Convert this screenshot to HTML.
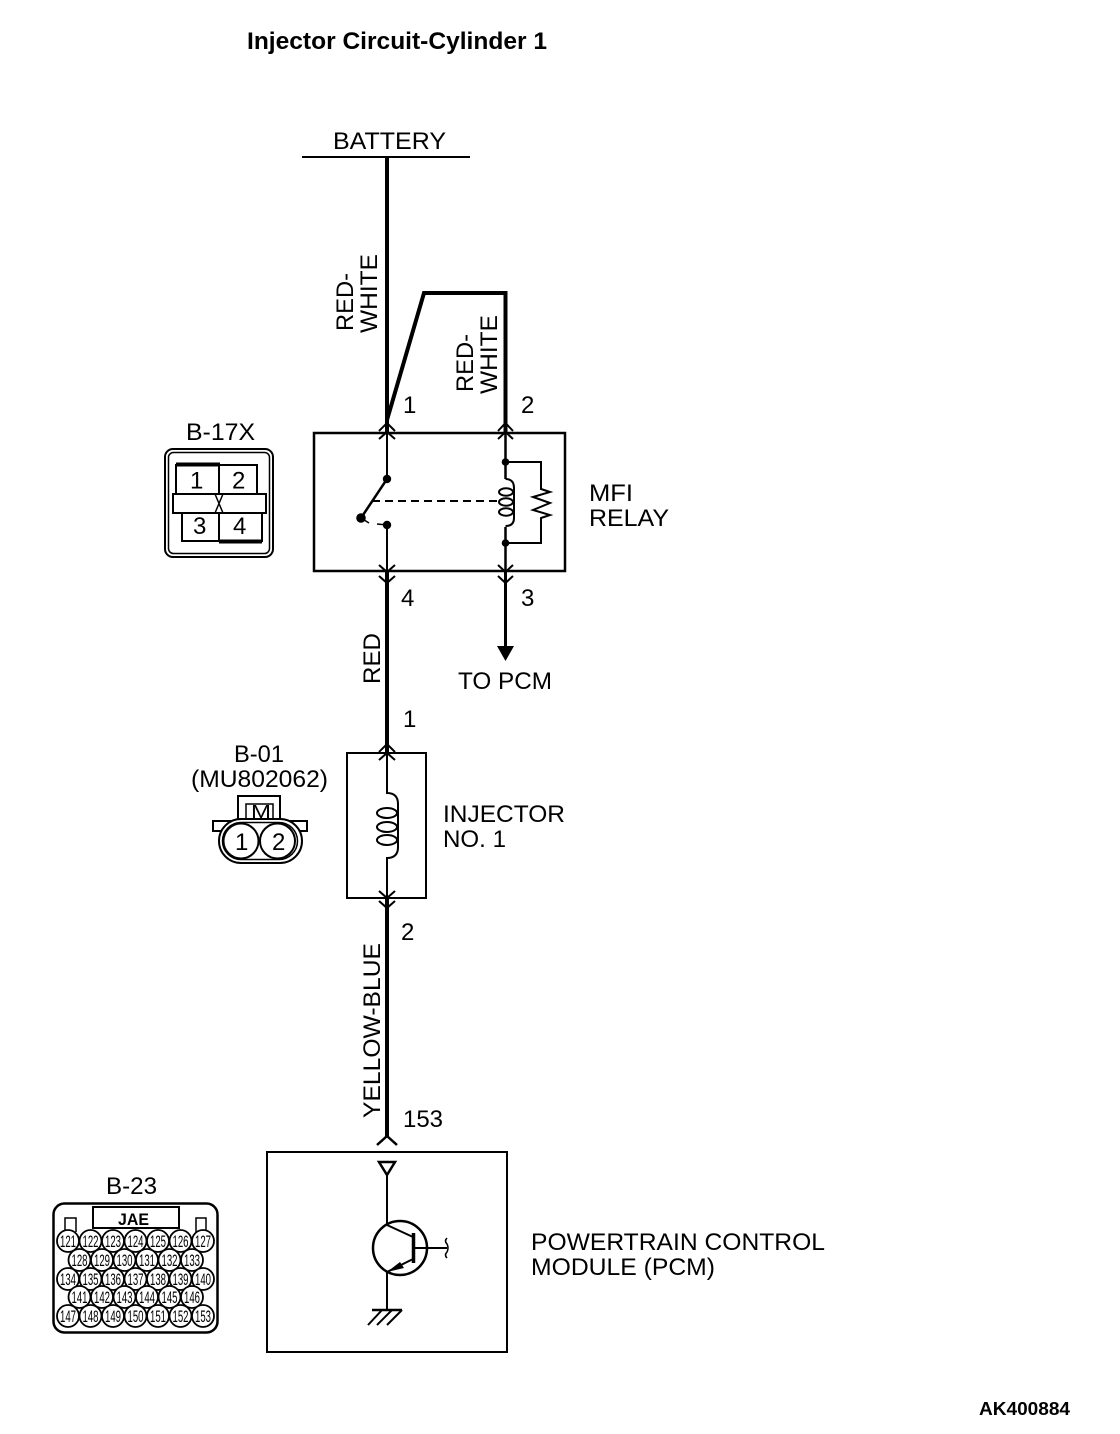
<!DOCTYPE html>
<html><head><meta charset="utf-8"><style>
html,body{margin:0;padding:0;background:#fff}
svg{display:block}
text{font-family:"Liberation Sans",sans-serif;font-size:24px;fill:#000}
.c{font-size:17px}
</style></head><body>
<svg xmlns="http://www.w3.org/2000/svg" width="1120" height="1434" viewBox="0 0 1120 1434">
<rect width="1120" height="1434" fill="#fff"/>
<text x="247" y="49" font-weight="bold" textLength="300" lengthAdjust="spacingAndGlyphs" style="font-weight:bold">Injector Circuit-Cylinder 1</text>
<text x="333" y="149" textLength="113" lengthAdjust="spacingAndGlyphs">BATTERY</text>
<text x="979" y="1415" textLength="91" lengthAdjust="spacingAndGlyphs" style="font-size:18px;font-weight:bold">AK400884</text>

<g fill="none" stroke="#000">
<path d="M302 157H470" stroke-width="2"/>
<path d="M387 157V432" stroke-width="4"/>
<path d="M387 420L424 293H505.5V432" stroke-width="4"/>
<rect x="314" y="433" width="251" height="138" stroke-width="2.5"/>
<!-- chevrons -->
<path d="M379 431L387 423L395 431M379 439L387 432L395 439M379 565L387 572L395 565M379 576L387 583L395 576" stroke-width="2"/>
<path d="M498 431L505.5 423L513 431M498 439L505.5 432L513 439M498 565L505.5 572L513 565M498 576L505.5 583L513 576" stroke-width="2"/>
<!-- relay contact -->
<path d="M387 432V479M387 525V572" stroke-width="2"/>
<path d="M361 518L387 479" stroke-width="2.5"/>
<path d="M361 518L369 523M377 524L387 525" stroke-width="1.5"/>
<path d="M372 501H498" stroke-width="2" stroke-dasharray="8 5"/>
<!-- relay coil -->
<path d="M505.5 432V479M505.5 527V572" stroke-width="2.5"/>
<path d="M505.5 462H541V489L550 492L533 497L550 503L533 510L550 515L541 518V543H505.5" stroke-width="2"/>
<path d="M505.5 479Q514 479 514 488V518Q514 526 505.5 526" stroke-width="2"/>
<ellipse cx="506" cy="492" rx="7" ry="3.7" stroke-width="2"/>
<ellipse cx="506" cy="502" rx="7" ry="3.7" stroke-width="2"/>
<ellipse cx="506" cy="512" rx="7" ry="3.7" stroke-width="2"/>
<!-- lower wires -->
<path d="M387 572V753" stroke-width="4"/>
<path d="M505.5 572V650" stroke-width="3"/>
<!-- injector -->
<rect x="347" y="753" width="79" height="145" stroke-width="2"/>
<path d="M379 752L387 744L395 752M379 760L387 753L395 760M379 891L387 898L395 891M379 901L387 908L395 901" stroke-width="2"/>
<path d="M387 753V793Q398 793 398 804V847Q398 858 387 858V898" stroke-width="2"/>
<ellipse cx="387" cy="813" rx="10" ry="5" stroke-width="2"/>
<ellipse cx="387" cy="827" rx="10" ry="5" stroke-width="2"/>
<ellipse cx="387" cy="840" rx="10" ry="5" stroke-width="2"/>
<path d="M387 898V1137" stroke-width="4"/>
<!-- PCM -->
<rect x="267" y="1152" width="240" height="200" stroke-width="2"/>
<path d="M377 1145L387 1136L397 1145" stroke-width="2.5"/>
<path d="M379 1162H395L387 1175Z" stroke-width="2.5"/>
<path d="M387 1175V1225M387 1272V1310" stroke-width="2"/>
<circle cx="400" cy="1248" r="27" stroke-width="2.5"/>
<path d="M413.500 1233V1263" stroke-width="3.5"/>
<path d="M387 1225L413 1237M413 1259L387 1272M414 1248H447" stroke-width="2"/>
<path d="M447 1238Q444 1241 447 1244Q449 1248 447 1252Q444 1255 447 1258" stroke-width="1.5"/>
<path d="M372 1310H402" stroke-width="2.5"/>
<path d="M382 1310L368 1325M392 1310L377 1325M402 1310L387 1325" stroke-width="2"/>
<!-- B-17X -->
<rect x="165" y="449" width="108" height="108" rx="8" stroke-width="2"/>
<rect x="168.500" y="452.500" width="101" height="101" rx="5" stroke-width="1.500"/>
<path d="M176 494V465H257V494M182 513V541H262V513M219 465V494M219 513V541" stroke-width="2"/>
<rect x="173" y="494" width="93" height="19" stroke-width="2"/>
<path d="M176 464.500H220M219 541.500H262" stroke-width="4"/>
<path d="M215 494L223 513M223 494L215 513" stroke-width="1.500"/>
<!-- B-01 -->
<rect x="238" y="796" width="42" height="26" stroke-width="2"/>
<path d="M246 822V804H273V822" stroke-width="1.500"/>
<path d="M213 821H307V831H213Z" stroke-width="2"/>
<rect x="219" y="819" width="83" height="44" rx="22" fill="#fff" stroke-width="2"/>
<rect x="222.500" y="822.500" width="75" height="37" rx="18.500" stroke-width="1.500"/>
<circle cx="241" cy="841" r="17.500" fill="#fff" stroke-width="2"/>
<circle cx="277.500" cy="841" r="17.500" fill="#fff" stroke-width="2"/>
<!-- B-23 -->
<rect x="53.500" y="1203.500" width="164" height="129" rx="11" stroke-width="2.500"/>
<rect x="93" y="1207" width="86" height="21" stroke-width="2"/>
<path d="M65 1232V1218H76V1232M196 1232V1218H206V1232" stroke-width="1.500"/>
</g>

<g fill="#000">
<circle cx="387" cy="479" r="4.200"/>
<circle cx="387" cy="525" r="4.200"/>
<circle cx="361" cy="518" r="4.800"/>
<circle cx="505.500" cy="462" r="3.800"/>
<circle cx="505.500" cy="543" r="3.800"/>
<path d="M497 646H514L505.500 661Z"/>
<path d="M387 1272L400 1262L404 1268Z"/>
</g>

<!-- B-23 pins -->
<g fill="#fff" stroke="#000" stroke-width="1.800">
<circle cx="68" cy="1241" r="11"/><circle cx="90.500" cy="1241" r="11"/><circle cx="113" cy="1241" r="11"/><circle cx="135.500" cy="1241" r="11"/><circle cx="158" cy="1241" r="11"/><circle cx="180.500" cy="1241" r="11"/><circle cx="203" cy="1241" r="11"/>
<circle cx="79.500" cy="1260" r="11"/><circle cx="102" cy="1260" r="11"/><circle cx="124.500" cy="1260" r="11"/><circle cx="147" cy="1260" r="11"/><circle cx="169.500" cy="1260" r="11"/><circle cx="192" cy="1260" r="11"/>
<circle cx="68" cy="1279" r="11"/><circle cx="90.500" cy="1279" r="11"/><circle cx="113" cy="1279" r="11"/><circle cx="135.500" cy="1279" r="11"/><circle cx="158" cy="1279" r="11"/><circle cx="180.500" cy="1279" r="11"/><circle cx="203" cy="1279" r="11"/>
<circle cx="79.500" cy="1297" r="11"/><circle cx="102" cy="1297" r="11"/><circle cx="124.500" cy="1297" r="11"/><circle cx="147" cy="1297" r="11"/><circle cx="169.500" cy="1297" r="11"/><circle cx="192" cy="1297" r="11"/>
<circle cx="68" cy="1316" r="11"/><circle cx="90.500" cy="1316" r="11"/><circle cx="113" cy="1316" r="11"/><circle cx="135.500" cy="1316" r="11"/><circle cx="158" cy="1316" r="11"/><circle cx="180.500" cy="1316" r="11"/><circle cx="203" cy="1316" r="11"/>
</g>
<g text-anchor="middle">
<g transform="translate(0,1247)"><text class="c" x="68" textLength="16" lengthAdjust="spacingAndGlyphs">121</text><text class="c" x="90.500" textLength="16" lengthAdjust="spacingAndGlyphs">122</text><text class="c" x="113" textLength="16" lengthAdjust="spacingAndGlyphs">123</text><text class="c" x="135.500" textLength="16" lengthAdjust="spacingAndGlyphs">124</text><text class="c" x="158" textLength="16" lengthAdjust="spacingAndGlyphs">125</text><text class="c" x="180.500" textLength="16" lengthAdjust="spacingAndGlyphs">126</text><text class="c" x="203" textLength="16" lengthAdjust="spacingAndGlyphs">127</text></g>
<g transform="translate(0,1266)"><text class="c" x="79.500" textLength="16" lengthAdjust="spacingAndGlyphs">128</text><text class="c" x="102" textLength="16" lengthAdjust="spacingAndGlyphs">129</text><text class="c" x="124.500" textLength="16" lengthAdjust="spacingAndGlyphs">130</text><text class="c" x="147" textLength="16" lengthAdjust="spacingAndGlyphs">131</text><text class="c" x="169.500" textLength="16" lengthAdjust="spacingAndGlyphs">132</text><text class="c" x="192" textLength="16" lengthAdjust="spacingAndGlyphs">133</text></g>
<g transform="translate(0,1285)"><text class="c" x="68" textLength="16" lengthAdjust="spacingAndGlyphs">134</text><text class="c" x="90.500" textLength="16" lengthAdjust="spacingAndGlyphs">135</text><text class="c" x="113" textLength="16" lengthAdjust="spacingAndGlyphs">136</text><text class="c" x="135.500" textLength="16" lengthAdjust="spacingAndGlyphs">137</text><text class="c" x="158" textLength="16" lengthAdjust="spacingAndGlyphs">138</text><text class="c" x="180.500" textLength="16" lengthAdjust="spacingAndGlyphs">139</text><text class="c" x="203" textLength="16" lengthAdjust="spacingAndGlyphs">140</text></g>
<g transform="translate(0,1303)"><text class="c" x="79.500" textLength="16" lengthAdjust="spacingAndGlyphs">141</text><text class="c" x="102" textLength="16" lengthAdjust="spacingAndGlyphs">142</text><text class="c" x="124.500" textLength="16" lengthAdjust="spacingAndGlyphs">143</text><text class="c" x="147" textLength="16" lengthAdjust="spacingAndGlyphs">144</text><text class="c" x="169.500" textLength="16" lengthAdjust="spacingAndGlyphs">145</text><text class="c" x="192" textLength="16" lengthAdjust="spacingAndGlyphs">146</text></g>
<g transform="translate(0,1322)"><text class="c" x="68" textLength="16" lengthAdjust="spacingAndGlyphs">147</text><text class="c" x="90.500" textLength="16" lengthAdjust="spacingAndGlyphs">148</text><text class="c" x="113" textLength="16" lengthAdjust="spacingAndGlyphs">149</text><text class="c" x="135.500" textLength="16" lengthAdjust="spacingAndGlyphs">150</text><text class="c" x="158" textLength="16" lengthAdjust="spacingAndGlyphs">151</text><text class="c" x="180.500" textLength="16" lengthAdjust="spacingAndGlyphs">152</text><text class="c" x="203" textLength="16" lengthAdjust="spacingAndGlyphs">153</text></g>
</g>

<!-- rotated labels -->
<text transform="translate(353,331) rotate(-90)" textLength="58" lengthAdjust="spacingAndGlyphs">RED-</text>
<text transform="translate(377,333) rotate(-90)" textLength="79" lengthAdjust="spacingAndGlyphs">WHITE</text>
<text transform="translate(473,392) rotate(-90)" textLength="58" lengthAdjust="spacingAndGlyphs">RED-</text>
<text transform="translate(497,394) rotate(-90)" textLength="79" lengthAdjust="spacingAndGlyphs">WHITE</text>
<text transform="translate(380,684) rotate(-90)" textLength="51" lengthAdjust="spacingAndGlyphs">RED</text>
<text transform="translate(380,1118) rotate(-90)" textLength="175" lengthAdjust="spacingAndGlyphs">YELLOW-BLUE</text>

<!-- pin numbers -->
<text x="403" y="413">1</text>
<text x="521" y="413">2</text>
<text x="401" y="606">4</text>
<text x="521" y="606">3</text>
<text x="403" y="727">1</text>
<text x="401" y="940">2</text>
<text x="403" y="1127" textLength="40" lengthAdjust="spacingAndGlyphs">153</text>

<!-- component labels -->
<text x="186" y="440" textLength="69" lengthAdjust="spacingAndGlyphs">B-17X</text>
<text x="589" y="501" textLength="44" lengthAdjust="spacingAndGlyphs">MFI</text>
<text x="589" y="526" textLength="80" lengthAdjust="spacingAndGlyphs">RELAY</text>
<text x="458" y="689" textLength="94" lengthAdjust="spacingAndGlyphs">TO PCM</text>
<text x="234" y="762" textLength="50" lengthAdjust="spacingAndGlyphs">B-01</text>
<text x="191" y="787" textLength="137" lengthAdjust="spacingAndGlyphs">(MU802062)</text>
<text x="443" y="822" textLength="122" lengthAdjust="spacingAndGlyphs">INJECTOR</text>
<text x="443" y="847" textLength="63" lengthAdjust="spacingAndGlyphs">NO. 1</text>
<text x="106" y="1194" textLength="51" lengthAdjust="spacingAndGlyphs">B-23</text>
<text x="531" y="1250" textLength="294" lengthAdjust="spacingAndGlyphs">POWERTRAIN CONTROL</text>
<text x="531" y="1275" textLength="184" lengthAdjust="spacingAndGlyphs">MODULE (PCM)</text>

<!-- connector text -->
<text x="190" y="488.500">1</text>
<text x="232" y="488.500">2</text>
<text x="193" y="534">3</text>
<text x="233" y="534">4</text>
<text x="251" y="818" style="font-size:18px" textLength="20" lengthAdjust="spacingAndGlyphs">M</text>
<text x="235" y="850">1</text>
<text x="272" y="850">2</text>
<text x="118" y="1225" style="font-size:17px;font-weight:bold" textLength="31" lengthAdjust="spacingAndGlyphs">JAE</text>
</svg>
</body></html>
